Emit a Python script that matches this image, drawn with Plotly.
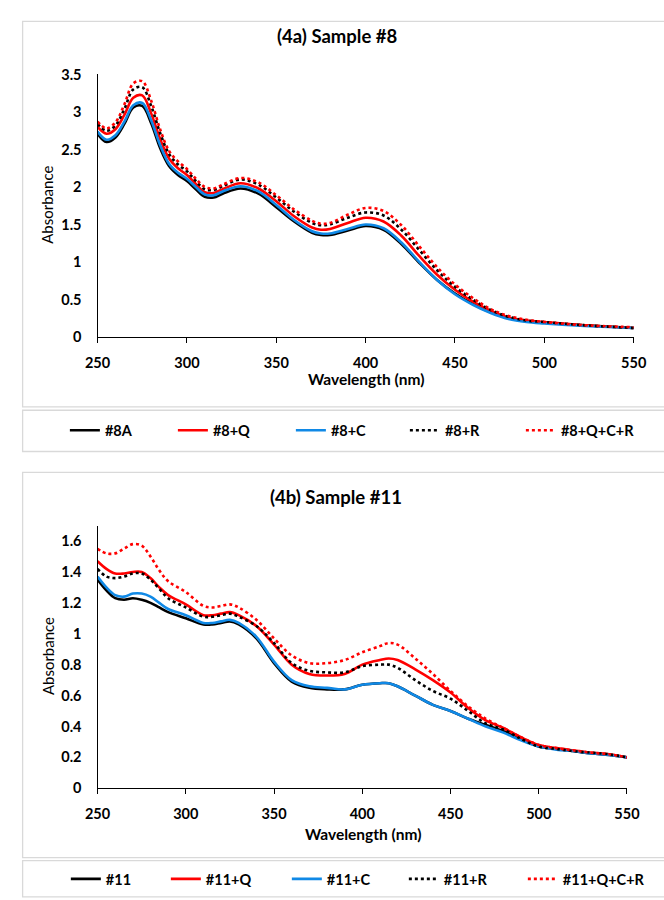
import plotly.graph_objects as go

W, H = 664, 900

# ---------------- Data: Sample #8 ----------------
wl8 = [250, 255, 260, 265, 270, 275, 280, 285, 290, 295, 300, 305, 310, 315, 320,
       330, 340, 350, 360, 370, 375, 380, 390, 400, 410, 420, 430, 440, 450, 460,
       470, 480, 490, 500, 520, 550]
s8A = [2.71, 2.60, 2.66, 2.84, 3.06, 3.08, 2.85, 2.52, 2.28, 2.16, 2.08, 1.97, 1.87, 1.86, 1.91,
       1.98, 1.91, 1.73, 1.54, 1.39, 1.36, 1.36, 1.42, 1.48, 1.43, 1.24, 0.99, 0.76, 0.58, 0.44,
       0.33, 0.25, 0.21, 0.19, 0.16, 0.12]
s8Q = [2.80, 2.71, 2.77, 2.96, 3.19, 3.22, 2.98, 2.64, 2.38, 2.25, 2.16, 2.04, 1.93, 1.92, 1.97,
       2.05, 1.98, 1.81, 1.61, 1.46, 1.43, 1.44, 1.52, 1.59, 1.54, 1.35, 1.08, 0.83, 0.63, 0.47,
       0.35, 0.26, 0.22, 0.20, 0.16, 0.12]
s8C = [2.74, 2.63, 2.69, 2.87, 3.09, 3.12, 2.89, 2.56, 2.31, 2.19, 2.11, 2.00, 1.90, 1.89, 1.94,
       2.01, 1.94, 1.76, 1.56, 1.41, 1.38, 1.38, 1.44, 1.50, 1.45, 1.26, 1.00, 0.76, 0.57, 0.43,
       0.32, 0.24, 0.20, 0.18, 0.15, 0.12]
s8R = [2.84, 2.75, 2.82, 3.04, 3.30, 3.33, 3.08, 2.72, 2.44, 2.30, 2.21, 2.08, 1.97, 1.96, 2.01,
       2.10, 2.03, 1.86, 1.67, 1.52, 1.49, 1.50, 1.59, 1.66, 1.62, 1.43, 1.16, 0.89, 0.67, 0.50,
       0.36, 0.27, 0.22, 0.20, 0.16, 0.12]
s8QCR = [2.87, 2.78, 2.86, 3.10, 3.38, 3.41, 3.15, 2.77, 2.48, 2.34, 2.24, 2.11, 2.00, 1.98, 2.03,
         2.12, 2.06, 1.89, 1.70, 1.55, 1.51, 1.52, 1.63, 1.72, 1.68, 1.49, 1.21, 0.93, 0.70, 0.52,
         0.37, 0.28, 0.23, 0.20, 0.16, 0.13]

# ---------------- Data: Sample #11 ----------------
wl11 = [250, 255, 260, 265, 270, 275, 280, 285, 290, 300, 310, 315, 320, 325, 330,
        340, 350, 360, 370, 380, 390, 400, 410, 415, 420, 430, 440, 450, 460, 470,
        480, 490, 500, 510, 520, 530, 540, 550]
s11 = [1.35, 1.28, 1.23, 1.22, 1.23, 1.22, 1.20, 1.17, 1.14, 1.10, 1.06, 1.06, 1.07, 1.08, 1.06,
       0.97, 0.81, 0.69, 0.65, 0.64, 0.64, 0.67, 0.68, 0.68, 0.66, 0.60, 0.54, 0.50, 0.45, 0.41,
       0.37, 0.32, 0.27, 0.255, 0.24, 0.225, 0.215, 0.20]
s11Q = [1.47, 1.42, 1.39, 1.39, 1.40, 1.40, 1.36, 1.30, 1.25, 1.19, 1.12, 1.12, 1.13, 1.14, 1.12,
        1.05, 0.93, 0.80, 0.74, 0.73, 0.74, 0.80, 0.83, 0.84, 0.83, 0.77, 0.70, 0.62, 0.52, 0.44,
        0.39, 0.33, 0.28, 0.26, 0.245, 0.23, 0.22, 0.20]
s11C = [1.37, 1.30, 1.25, 1.24, 1.26, 1.26, 1.24, 1.20, 1.16, 1.12, 1.07, 1.07, 1.08, 1.09, 1.07,
        0.98, 0.82, 0.70, 0.66, 0.65, 0.64, 0.67, 0.68, 0.68, 0.66, 0.60, 0.54, 0.50, 0.45, 0.40,
        0.36, 0.31, 0.27, 0.25, 0.24, 0.225, 0.215, 0.20]
s11R = [1.42, 1.37, 1.36, 1.37, 1.39, 1.39, 1.35, 1.29, 1.23, 1.17, 1.11, 1.11, 1.12, 1.13, 1.11,
        1.05, 0.94, 0.81, 0.76, 0.75, 0.75, 0.79, 0.80, 0.80, 0.78, 0.70, 0.63, 0.58, 0.50, 0.42,
        0.38, 0.32, 0.27, 0.255, 0.24, 0.23, 0.22, 0.20]
s11QCR = [1.55, 1.52, 1.52, 1.55, 1.58, 1.57, 1.50, 1.41, 1.34, 1.27, 1.18, 1.17, 1.18, 1.19, 1.17,
          1.09, 0.97, 0.86, 0.81, 0.81, 0.83, 0.88, 0.92, 0.94, 0.93, 0.84, 0.74, 0.63, 0.53, 0.45,
          0.39, 0.33, 0.28, 0.26, 0.245, 0.23, 0.22, 0.20]

names8 = ["#8A", "#8+Q", "#8+C", "#8+R", "#8+Q+C+R"]
names11 = ["#11", "#11+Q", "#11+C", "#11+R", "#11+Q+C+R"]
x_ticks = [250, 300, 350, 400, 450, 500, 550]

BLACK, RED, BLUE = "#000000", "#FF0000", "#1089E6"
styles = [(BLACK, "solid"), (RED, "solid"), (BLUE, "solid"), (BLACK, "3px,3px"), (RED, "3px,3px")]
# legend entry widths (text slot per item) so that entries sit where the reference has them
legw8 = [63, 73, 69, 71, 90]
legw11 = [55, 76, 72, 74, 95]
FONT = "Lato"
LW = 2.6

fig = go.Figure()
for name, ys, (c, d), lw in zip(names8, [s8A, s8Q, s8C, s8R, s8QCR], styles, legw8):
    fig.add_trace(go.Scatter(x=wl8, y=ys, name=name, mode="lines", legendwidth=lw,
                             line=dict(color=c, width=LW, dash=d, shape="spline", smoothing=1),
                             xaxis="x", yaxis="y", legend="legend"))
for name, ys, (c, d), lw in zip(names11, [s11, s11Q, s11C, s11R, s11QCR], styles, legw11):
    fig.add_trace(go.Scatter(x=wl11, y=ys, name=name, mode="lines", legendwidth=lw,
                             line=dict(color=c, width=LW, dash=d, shape="spline", smoothing=1),
                             xaxis="x2", yaxis="y2", legend="legend2"))

def px(x):
    return x / W

def py(y):
    return 1 - y / H

tickfont = dict(family=FONT, size=14.5, color="#000000", weight="bold")
xa = dict(range=[250, 550], tickvals=x_ticks, showline=True, linecolor="#000000", linewidth=1.3,
          ticks="outside", ticklen=5, tickwidth=1.3, tickcolor="#000000", showgrid=False,
          zeroline=False, tickfont=tickfont, ticklabelstandoff=7, fixedrange=True)
ya = dict(showline=True, linecolor="#000000", linewidth=1.3, ticks="", showgrid=False,
          zeroline=False, tickfont=tickfont, ticklabelstandoff=12, fixedrange=True)

legfont = dict(family=FONT, size=14.5, color="#000000", weight="bold")
fig.update_layout(
    width=W, height=H, autosize=False,
    margin=dict(l=0, r=0, t=0, b=0),
    paper_bgcolor="white", plot_bgcolor="white",
    xaxis=dict(xa, domain=[px(88), px(646)], anchor="y"),
    yaxis=dict(ya, domain=[py(334.3), py(66.7)], range=[0, 3.5], dtick=0.5, anchor="x"),
    xaxis2=dict(xa, domain=[px(88), px(639)], anchor="y2"),
    yaxis2=dict(ya, domain=[py(794.3), py(526.5)], range=[0, 1.7], dtick=0.2, anchor="x2"),
    legend=dict(orientation="h", x=px(54), xanchor="left", y=py(429.5), yanchor="middle",
                bgcolor="rgba(0,0,0,0)", font=legfont, itemclick=False, itemdoubleclick=False),
    legend2=dict(orientation="h", x=px(55), xanchor="left", y=py(886.7), yanchor="middle",
                 bgcolor="rgba(0,0,0,0)", font=legfont, itemclick=False, itemdoubleclick=False),
    showlegend=True,
)

box = dict(type="rect", xref="paper", yref="paper", line=dict(color="#D9D9D9", width=1.3),
           fillcolor="rgba(0,0,0,0)", layer="below")
for (t, b) in [(12.7, 405.6), (409, 451), (472.3, 865), (868, 905)]:
    fig.add_shape(box, x0=px(10), x1=px(680), y0=py(b), y1=py(t))

def add_text(txt, x, y, size, bold=True, angle=0):
    fig.add_annotation(text=txt, x=px(x), y=py(y), xref="paper",
                       yref="paper", showarrow=False, textangle=angle, xanchor="center",
                       yanchor="middle",
                       font=dict(family=FONT, size=size, color="#000000",
                                 weight="bold" if bold else "normal"))

add_text("(4a) Sample #8", 338, 28, 18.5)
add_text("(4b) Sample #11", 336, 497, 18.5)
add_text("Absorbance", 36, 200, 15, bold=False, angle=-90)
add_text("Absorbance", 36, 660, 15, bold=False, angle=-90)
add_text("Wavelength (nm)", 367, 377, 15.5)
add_text("Wavelength (nm)", 364, 841, 15.5)

fig.write_html("out.html", config={"displayModeBar": False},
               post_script="document.body.style.margin='0';")
